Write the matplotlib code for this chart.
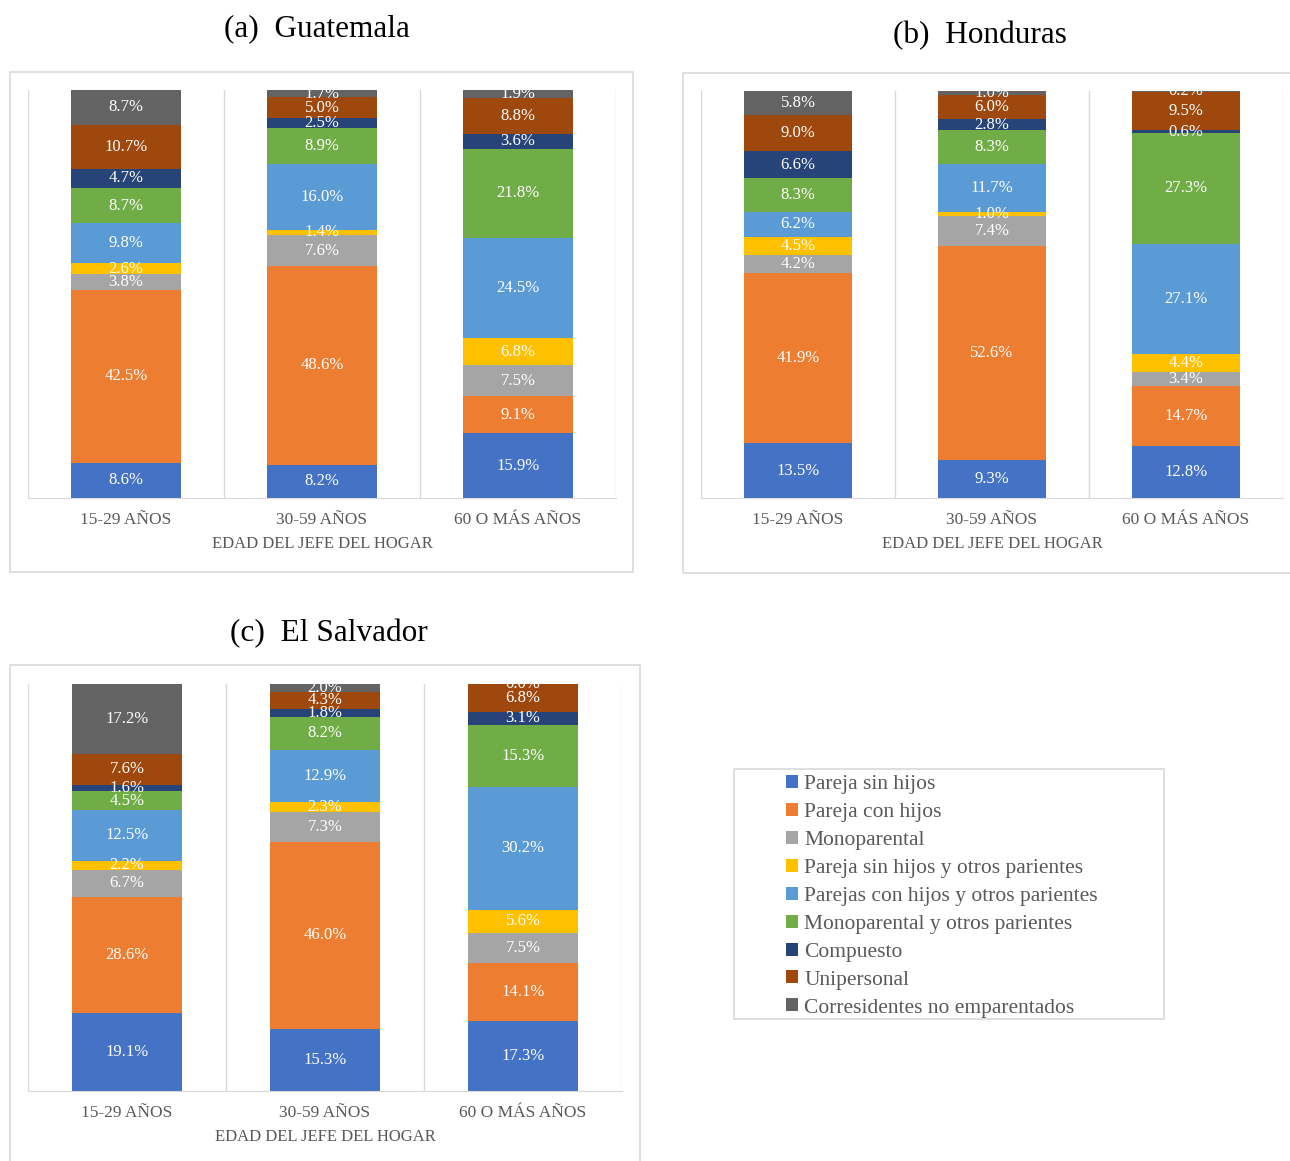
import numpy as np
import matplotlib.pyplot as plt
from matplotlib.patches import Rectangle

plt.rcParams['font.family'] = ['Liberation Serif', 'DejaVu Serif']

categories = ['15-29 AÑOS', '30-59 AÑOS', '60 O MÁS AÑOS']
series = ['Pareja sin hijos', 'Pareja con hijos', 'Monoparental',
          'Pareja sin hijos y otros parientes', 'Parejas con hijos y otros parientes',
          'Monoparental y otros parientes', 'Compuesto', 'Unipersonal',
          'Corresidentes no emparentados']
colors = ['#4472C4', '#ED7D31', '#A5A5A5', '#FFC000', '#5B9BD5',
          '#70AD47', '#264478', '#9E480E', '#636363']

# values per category, in series order
guatemala = [
    [8.6, 42.5, 3.8, 2.6, 9.8, 8.7, 4.7, 10.7, 8.7],
    [8.2, 48.6, 7.6, 1.4, 16.0, 8.9, 2.5, 5.0, 1.7],
    [15.9, 9.1, 7.5, 6.8, 24.5, 21.8, 3.6, 8.8, 1.9],
]
honduras = [
    [13.5, 41.9, 4.2, 4.5, 6.2, 8.3, 6.6, 9.0, 5.8],
    [9.3, 52.6, 7.4, 1.0, 11.7, 8.3, 2.8, 6.0, 1.0],
    [12.8, 14.7, 3.4, 4.4, 27.1, 27.3, 0.6, 9.5, 0.2],
]
el_salvador = [
    [19.1, 28.6, 6.7, 2.2, 12.5, 4.5, 1.6, 7.6, 17.2],
    [15.3, 46.0, 7.3, 2.3, 12.9, 8.2, 1.8, 4.3, 2.0],
    [17.3, 14.1, 7.5, 5.6, 30.2, 15.3, 3.1, 6.8, 0.0],
]

W, H = 1290, 1161
fig = plt.figure(figsize=(W / 100, H / 100), dpi=100)


def px_axes(x0, x1, ytop, ybot):
    return fig.add_axes([x0 / W, 1 - ybot / H, (x1 - x0) / W, (ybot - ytop) / H])


def frame(x0, y0, x1, y1):
    fig.add_artist(Rectangle((x0 / W, 1 - y1 / H), (x1 - x0) / W, (y1 - y0) / H,
                             transform=fig.transFigure, fill=False,
                             edgecolor='#D9D9D9', linewidth=1.2))


def panel(ax, data, width):
    data = np.array(data)
    x = np.arange(len(categories))
    bottom = np.zeros(len(categories))
    for j, name in enumerate(series):
        vals = data[:, j]
        ax.bar(x, vals, width, bottom=bottom, color=colors[j], linewidth=0, label=name)
        for xi, b, v in zip(x, bottom, vals):
            ax.text(xi, b + v / 2, f'{v:.1f}%', ha='center', va='center',
                    color='white', fontsize=12)
        bottom += vals
    ax.set_xlim(-0.5, 2.5)
    ax.set_ylim(0, 100)
    for b in [-0.5, 0.5, 1.5, 2.5]:
        ax.axvline(b, color='#D9D9D9', linewidth=1, zorder=0)
    for s in ['top', 'left', 'right']:
        ax.spines[s].set_visible(False)
    ax.spines['bottom'].set_color('#D9D9D9')
    ax.set_yticks([])
    ax.set_xticks(x)
    ax.set_xticklabels(categories, fontsize=12.5, color='#595959')
    ax.tick_params(axis='x', length=0, pad=10)
    ax.set_xlabel('EDAD DEL JEFE DEL HOGAR', fontsize=12, color='#595959', labelpad=6)


# (a) Guatemala
frame(10, 72, 633, 572)
ax_a = px_axes(28, 616, 90, 498)
panel(ax_a, guatemala, 0.56)
fig.text(317 / W, 1 - 29 / H, '(a)  Guatemala', ha='center', va='center', fontsize=22.5)

# (b) Honduras
frame(683, 73, 1300, 573)
ax_b = px_axes(701, 1283, 91, 498)
panel(ax_b, honduras, 0.56)
fig.text(980 / W, 1 - 36 / H, '(b)  Honduras', ha='center', va='center', fontsize=22.5)

# (c) El Salvador
frame(10, 665, 640, 1170)
ax_c = px_axes(28, 622, 684, 1091)
panel(ax_c, el_salvador, 0.556)
fig.text(329 / W, 1 - 634 / H, '(c)  El Salvador', ha='center', va='center', fontsize=22.5)

# legend
frame(734, 769, 1164, 1019)
handles, labels = ax_a.get_legend_handles_labels()
leg = fig.legend(handles, labels, loc='upper left',
                 bbox_to_anchor=(786 / W, 1 - 775 / H), frameon=False,
                 fontsize=15.5, handlelength=0.55, handleheight=0.55, handletextpad=0.3,
                 labelspacing=0.41, borderaxespad=0, borderpad=0)
for t in leg.get_texts():
    t.set_color('#595959')

fig.savefig('out.png', dpi=100)
